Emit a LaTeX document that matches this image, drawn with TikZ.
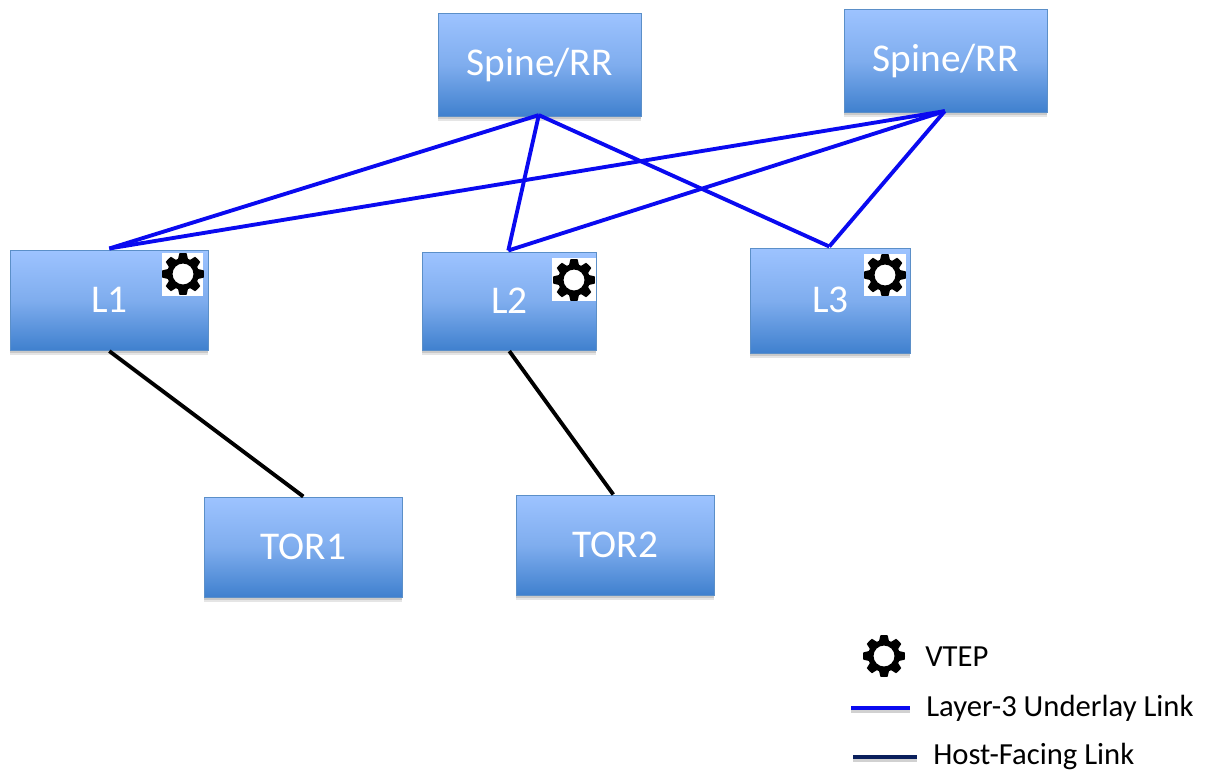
\documentclass[tikz,border=0pt]{standalone}
\usepackage{fontspec}
\setmainfont{Carlito}
\definecolor{boxtop}{HTML}{9DC3FF}
\definecolor{boxmid}{HTML}{7FADEE}
\definecolor{boxbot}{HTML}{3F80CE}
\definecolor{boxline}{HTML}{5B8FC8}
\definecolor{linkblue}{HTML}{0A0AF0}
\definecolor{hostnavy}{HTML}{0A1F5C}
\pgfdeclareverticalshading{boxshade}{100bp}{color(0bp)=(boxbot); color(25bp)=(boxbot); color(50bp)=(boxmid); color(75bp)=(boxtop); color(100bp)=(boxtop)}
\usetikzlibrary{calc}
% gear: (centre x, centre y, outer radius)
\newcommand{\gearpath}[3]{%
  \fill[black,even odd rule]
    plot[smooth cycle,tension=0.08] coordinates {%
    ($(#1,#2)+(0:#3)$) ($(#1,#2)+(10:#3)$) ($(#1,#2)+(18:#3*0.76)$)
    ($(#1,#2)+(27:#3*0.76)$) ($(#1,#2)+(35:#3)$) ($(#1,#2)+(45:#3)$) ($(#1,#2)+(55:#3)$) ($(#1,#2)+(63:#3*0.76)$)
    ($(#1,#2)+(72:#3*0.76)$) ($(#1,#2)+(80:#3)$) ($(#1,#2)+(90:#3)$) ($(#1,#2)+(100:#3)$) ($(#1,#2)+(108:#3*0.76)$)
    ($(#1,#2)+(117:#3*0.76)$) ($(#1,#2)+(125:#3)$) ($(#1,#2)+(135:#3)$) ($(#1,#2)+(145:#3)$) ($(#1,#2)+(153:#3*0.76)$)
    ($(#1,#2)+(162:#3*0.76)$) ($(#1,#2)+(170:#3)$) ($(#1,#2)+(180:#3)$) ($(#1,#2)+(190:#3)$) ($(#1,#2)+(198:#3*0.76)$)
    ($(#1,#2)+(207:#3*0.76)$) ($(#1,#2)+(215:#3)$) ($(#1,#2)+(225:#3)$) ($(#1,#2)+(235:#3)$) ($(#1,#2)+(243:#3*0.76)$)
    ($(#1,#2)+(252:#3*0.76)$) ($(#1,#2)+(260:#3)$) ($(#1,#2)+(270:#3)$) ($(#1,#2)+(280:#3)$) ($(#1,#2)+(288:#3*0.76)$)
    ($(#1,#2)+(297:#3*0.76)$) ($(#1,#2)+(305:#3)$) ($(#1,#2)+(315:#3)$) ($(#1,#2)+(325:#3)$) ($(#1,#2)+(333:#3*0.76)$)
    ($(#1,#2)+(342:#3*0.76)$) ($(#1,#2)+(350:#3)$)}
    (#1,#2) circle [radius=#3*0.5];
}
\newcommand{\uplabel}[1]{\raisebox{1.2pt}{#1}}
\tikzset{
  x=0.75pt,y=-0.75pt,
  netbox/.style={draw=boxline,line width=1.2pt,shading=boxshade,anchor=north west,inner sep=0pt,
    text=white,font=\fontsize{29.5pt}{34pt}\selectfont,
    preaction={fill=black,fill opacity=0.12,transform canvas={yshift=-2pt}},
    preaction={fill=black,fill opacity=0.10,transform canvas={yshift=-3.2pt}}},
  boxsize/.style 2 args={minimum width=#1*0.75pt,minimum height=#2*0.75pt},
  uplink/.style={draw=linkblue,line width=2.9pt},
  hostlink/.style={draw=black,line width=2.9pt},
  legendtext/.style={anchor=west,inner sep=0pt,text=black,font=\fontsize{23pt}{27pt}\selectfont},
  legendline/.style={line width=2.6pt,preaction={draw=black,draw opacity=0.18,line width=3pt,transform canvas={yshift=-2.2pt}}}
}
\begin{document}
\begin{tikzpicture}
\useasboundingbox (0,0) rectangle (1205,771);
\node[netbox,boxsize={203}{103}] (s1) at (437.5,12.5) {Spine/RR};
\node[netbox,boxsize={203}{103}] (s2) at (843.5,8.5) {Spine/RR};
\node[netbox,boxsize={198}{100}] (l1) at (9.5,249.5) {\uplabel{L1}};
\node[netbox,boxsize={174}{98}] (l2) at (421.5,251.5) {\uplabel{L2}};
\node[netbox,boxsize={160}{105}] (l3) at (749.5,247.5) {\uplabel{L3}};
\node[netbox,boxsize={198}{100}] (t1) at (203.5,496.5) {\uplabel{TOR1}};
\node[netbox,boxsize={198}{100}] (t2) at (515.5,494.5) {\uplabel{TOR2}};
\coordinate (s1b) at ($(s1.south)+(-1,-2)$);
\coordinate (s2b) at ($(s2.south)+(-1,-2)$);
\coordinate (l1t) at ($(l1.north)+(0,-1)$);
\coordinate (l2t) at ($(l2.north)+(-1,-1)$);
\coordinate (l3t) at ($(l3.north)+(-1,-1)$);
\coordinate (t2t) at ($(t2.north)+(-2,0)$);
\draw[uplink] (s1b) -- (l1t);
\draw[uplink] (s1b) -- (l2t);
\draw[uplink] (s1b) -- (l3t);
\draw[uplink] (s2b) -- (l1t);
\draw[uplink] (s2b) -- (l2t);
\draw[uplink] (s2b) -- (l3t);
\draw[hostlink] (l1.south) -- (t1.north);
\draw[hostlink] (l2.south) -- (t2t);
\fill[white] (162,253) rectangle (203,296);
\fill[white] (552,258) rectangle (596,301);
\fill[white] (864,254) rectangle (906,296);
\gearpath{183}{274}{21}
\gearpath{574}{280}{21}
\gearpath{885}{275}{21}
\gearpath{884}{656}{21}
\node[legendtext] (v) at (925,657) {VTEP};
\node[legendtext] (u) at (926,708) {Layer-3 Underlay Link};
\node[legendtext] (h) at (933,756) {Host-Facing Link};
\coordinate (ua) at (851,708); \coordinate (ub) at (910,708);
\coordinate (ha) at (853,757); \coordinate (hb) at (917,757);
\draw[legendline,draw=linkblue] (ua) -- (ub);
\draw[legendline,draw=hostnavy] (ha) -- (hb);
\end{tikzpicture}
\end{document}
